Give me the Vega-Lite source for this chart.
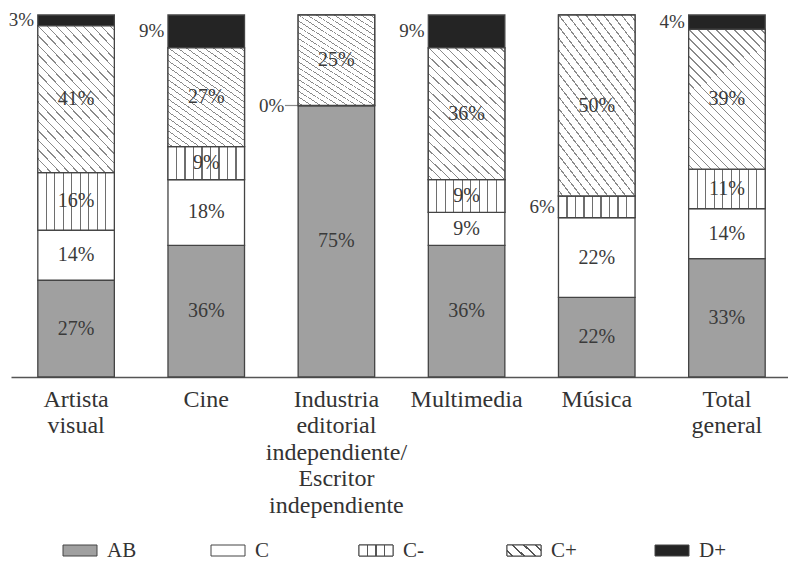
{
  "$schema": "https://vega.github.io/schema/vega-lite/v6.json",
  "padding": {"left": 8, "top": 11, "right": 0, "bottom": 0},
  "background": "white",
  "spacing": 22,
  "config": {
    "view": {"stroke": null},
    "font": "Liberation Serif",
    "text": {"font": "Liberation Serif"},
    "axis": {
      "domainColor": "#555",
      "domainWidth": 1.5,
      "ticks": false,
      "grid": false,
      "labelAngle": 0,
      "labelFont": "Liberation Serif",
      "labelFontSize": 24,
      "labelColor": "#333",
      "labelLineHeight": 26.5,
      "labelPadding": 10,
      "labelLimit": 0
    }
  },
  "vconcat": [
    {
      "width": 781,
      "height": 362,
      "data": {
        "values": [
          {"category": "Artista visual", "segment": "AB", "value": 27},
          {"category": "Artista visual", "segment": "C", "value": 14},
          {"category": "Artista visual", "segment": "C-", "value": 16},
          {"category": "Artista visual", "segment": "C+", "value": 41},
          {"category": "Artista visual", "segment": "D+", "value": 3},
          {"category": "Cine", "segment": "AB", "value": 36},
          {"category": "Cine", "segment": "C", "value": 18},
          {"category": "Cine", "segment": "C-", "value": 9},
          {"category": "Cine", "segment": "C+", "value": 27},
          {"category": "Cine", "segment": "D+", "value": 9},
          {"category": "Industria editorial independiente/ Escritor independiente", "segment": "AB", "value": 75},
          {"category": "Industria editorial independiente/ Escritor independiente", "segment": "C", "value": 0},
          {"category": "Industria editorial independiente/ Escritor independiente", "segment": "C+", "value": 25},
          {"category": "Multimedia", "segment": "AB", "value": 36},
          {"category": "Multimedia", "segment": "C", "value": 9},
          {"category": "Multimedia", "segment": "C-", "value": 9},
          {"category": "Multimedia", "segment": "C+", "value": 36},
          {"category": "Multimedia", "segment": "D+", "value": 9},
          {"category": "Música", "segment": "AB", "value": 22},
          {"category": "Música", "segment": "C", "value": 22},
          {"category": "Música", "segment": "C-", "value": 6},
          {"category": "Música", "segment": "C+", "value": 50},
          {"category": "Total general", "segment": "AB", "value": 33},
          {"category": "Total general", "segment": "C", "value": 14},
          {"category": "Total general", "segment": "C-", "value": 11},
          {"category": "Total general", "segment": "C+", "value": 39},
          {"category": "Total general", "segment": "D+", "value": 4}
        ]
      },
      "transform": [
        {"calculate": "indexof(['AB','C','C-','C+','D+'], datum.segment)", "as": "rank"},
        {"stack": "value", "groupby": ["category"], "sort": [{"field": "rank", "order": "ascending"}], "offset": "normalize", "as": ["y0", "y1"]},
        {"calculate": "(datum.y0 + datum.y1) / 2", "as": "mid"},
        {"calculate": "datum.value + '%'", "as": "label"}
      ],
      "encoding": {
        "x": {
          "field": "category",
          "type": "nominal",
          "sort": null,
          "scale": {"paddingInner": 0.412, "paddingOuter": 0.206},
          "axis": {"title": null, "labelExpr": "split(datum.label, ' ')"}
        }
      },
      "layer": [
        {
          "mark": {"type": "bar", "stroke": "#444", "strokeWidth": 1.3},
          "encoding": {
            "y": {"field": "y0", "type": "quantitative", "scale": {"domain": [0, 1]}, "axis": null},
            "y2": {"field": "y1"},
            "color": {
              "field": "segment",
              "type": "nominal",
              "scale": {
                "domain": ["AB", "C", "C-", "C+", "D+"],
                "range": ["#a0a0a0", "#ffffff", "#ffffff", "#ffffff", "#242424"]
              },
              "legend": null
            }
          }
        },
        {
          "transform": [{"filter": "datum.segment == 'C-'"}],
          "mark": {
            "type": "bar",
            "stroke": "#444",
            "strokeWidth": 1.3,
            "fill": {
              "gradient": "linear", "x1": 0, "y1": 0, "x2": 1, "y2": 0,
              "stops": [
                {"offset": 0, "color": "#ffffff"},
                {"offset": 0.1031, "color": "#ffffff"}, {"offset": 0.1031, "color": "#6e6e6e"}, {"offset": 0.1191, "color": "#6e6e6e"}, {"offset": 0.1191, "color": "#ffffff"},
                {"offset": 0.2142, "color": "#ffffff"}, {"offset": 0.2142, "color": "#6e6e6e"}, {"offset": 0.2302, "color": "#6e6e6e"}, {"offset": 0.2302, "color": "#ffffff"},
                {"offset": 0.3253, "color": "#ffffff"}, {"offset": 0.3253, "color": "#6e6e6e"}, {"offset": 0.3413, "color": "#6e6e6e"}, {"offset": 0.3413, "color": "#ffffff"},
                {"offset": 0.4364, "color": "#ffffff"}, {"offset": 0.4364, "color": "#6e6e6e"}, {"offset": 0.4524, "color": "#6e6e6e"}, {"offset": 0.4524, "color": "#ffffff"},
                {"offset": 0.5476, "color": "#ffffff"}, {"offset": 0.5476, "color": "#6e6e6e"}, {"offset": 0.5636, "color": "#6e6e6e"}, {"offset": 0.5636, "color": "#ffffff"},
                {"offset": 0.6587, "color": "#ffffff"}, {"offset": 0.6587, "color": "#6e6e6e"}, {"offset": 0.6747, "color": "#6e6e6e"}, {"offset": 0.6747, "color": "#ffffff"},
                {"offset": 0.7698, "color": "#ffffff"}, {"offset": 0.7698, "color": "#6e6e6e"}, {"offset": 0.7858, "color": "#6e6e6e"}, {"offset": 0.7858, "color": "#ffffff"},
                {"offset": 0.8809, "color": "#ffffff"}, {"offset": 0.8809, "color": "#6e6e6e"}, {"offset": 0.8969, "color": "#6e6e6e"}, {"offset": 0.8969, "color": "#ffffff"},
                {"offset": 1, "color": "#ffffff"}
              ]
            }
          },
          "encoding": {
            "y": {"field": "y0", "type": "quantitative"},
            "y2": {"field": "y1"}
          }
        },
        {
          "transform": [{"filter": "datum.segment == 'C+'"}],
          "mark": {
            "type": "bar",
            "stroke": "#444",
            "strokeWidth": 1.3,
            "fill": {
              "gradient": "linear", "x1": 1, "y1": 0, "x2": 0.344, "y2": 1.19,
              "stops": [
                {"offset": 0, "color": "#ffffff"},
                {"offset": 0.0175, "color": "#ffffff"}, {"offset": 0.0175, "color": "#8a8a8a"}, {"offset": 0.0241, "color": "#8a8a8a"}, {"offset": 0.0241, "color": "#ffffff"},
                {"offset": 0.0592, "color": "#ffffff"}, {"offset": 0.0592, "color": "#8a8a8a"}, {"offset": 0.0658, "color": "#8a8a8a"}, {"offset": 0.0658, "color": "#ffffff"},
                {"offset": 0.1009, "color": "#ffffff"}, {"offset": 0.1009, "color": "#8a8a8a"}, {"offset": 0.1075, "color": "#8a8a8a"}, {"offset": 0.1075, "color": "#ffffff"},
                {"offset": 0.1425, "color": "#ffffff"}, {"offset": 0.1425, "color": "#8a8a8a"}, {"offset": 0.1491, "color": "#8a8a8a"}, {"offset": 0.1491, "color": "#ffffff"},
                {"offset": 0.1842, "color": "#ffffff"}, {"offset": 0.1842, "color": "#8a8a8a"}, {"offset": 0.1908, "color": "#8a8a8a"}, {"offset": 0.1908, "color": "#ffffff"},
                {"offset": 0.2259, "color": "#ffffff"}, {"offset": 0.2259, "color": "#8a8a8a"}, {"offset": 0.2325, "color": "#8a8a8a"}, {"offset": 0.2325, "color": "#ffffff"},
                {"offset": 0.2675, "color": "#ffffff"}, {"offset": 0.2675, "color": "#8a8a8a"}, {"offset": 0.2741, "color": "#8a8a8a"}, {"offset": 0.2741, "color": "#ffffff"},
                {"offset": 0.3092, "color": "#ffffff"}, {"offset": 0.3092, "color": "#8a8a8a"}, {"offset": 0.3158, "color": "#8a8a8a"}, {"offset": 0.3158, "color": "#ffffff"},
                {"offset": 0.3509, "color": "#ffffff"}, {"offset": 0.3509, "color": "#8a8a8a"}, {"offset": 0.3575, "color": "#8a8a8a"}, {"offset": 0.3575, "color": "#ffffff"},
                {"offset": 0.3925, "color": "#ffffff"}, {"offset": 0.3925, "color": "#8a8a8a"}, {"offset": 0.3991, "color": "#8a8a8a"}, {"offset": 0.3991, "color": "#ffffff"},
                {"offset": 0.4342, "color": "#ffffff"}, {"offset": 0.4342, "color": "#8a8a8a"}, {"offset": 0.4408, "color": "#8a8a8a"}, {"offset": 0.4408, "color": "#ffffff"},
                {"offset": 0.4759, "color": "#ffffff"}, {"offset": 0.4759, "color": "#8a8a8a"}, {"offset": 0.4825, "color": "#8a8a8a"}, {"offset": 0.4825, "color": "#ffffff"},
                {"offset": 0.5175, "color": "#ffffff"}, {"offset": 0.5175, "color": "#8a8a8a"}, {"offset": 0.5241, "color": "#8a8a8a"}, {"offset": 0.5241, "color": "#ffffff"},
                {"offset": 0.5592, "color": "#ffffff"}, {"offset": 0.5592, "color": "#8a8a8a"}, {"offset": 0.5658, "color": "#8a8a8a"}, {"offset": 0.5658, "color": "#ffffff"},
                {"offset": 0.6009, "color": "#ffffff"}, {"offset": 0.6009, "color": "#8a8a8a"}, {"offset": 0.6075, "color": "#8a8a8a"}, {"offset": 0.6075, "color": "#ffffff"},
                {"offset": 0.6425, "color": "#ffffff"}, {"offset": 0.6425, "color": "#8a8a8a"}, {"offset": 0.6491, "color": "#8a8a8a"}, {"offset": 0.6491, "color": "#ffffff"},
                {"offset": 0.6842, "color": "#ffffff"}, {"offset": 0.6842, "color": "#8a8a8a"}, {"offset": 0.6908, "color": "#8a8a8a"}, {"offset": 0.6908, "color": "#ffffff"},
                {"offset": 0.7259, "color": "#ffffff"}, {"offset": 0.7259, "color": "#8a8a8a"}, {"offset": 0.7325, "color": "#8a8a8a"}, {"offset": 0.7325, "color": "#ffffff"},
                {"offset": 0.7675, "color": "#ffffff"}, {"offset": 0.7675, "color": "#8a8a8a"}, {"offset": 0.7741, "color": "#8a8a8a"}, {"offset": 0.7741, "color": "#ffffff"},
                {"offset": 0.8092, "color": "#ffffff"}, {"offset": 0.8092, "color": "#8a8a8a"}, {"offset": 0.8158, "color": "#8a8a8a"}, {"offset": 0.8158, "color": "#ffffff"},
                {"offset": 0.8509, "color": "#ffffff"}, {"offset": 0.8509, "color": "#8a8a8a"}, {"offset": 0.8575, "color": "#8a8a8a"}, {"offset": 0.8575, "color": "#ffffff"},
                {"offset": 0.8925, "color": "#ffffff"}, {"offset": 0.8925, "color": "#8a8a8a"}, {"offset": 0.8991, "color": "#8a8a8a"}, {"offset": 0.8991, "color": "#ffffff"},
                {"offset": 0.9342, "color": "#ffffff"}, {"offset": 0.9342, "color": "#8a8a8a"}, {"offset": 0.9408, "color": "#8a8a8a"}, {"offset": 0.9408, "color": "#ffffff"},
                {"offset": 0.9759, "color": "#ffffff"}, {"offset": 0.9759, "color": "#8a8a8a"}, {"offset": 0.9825, "color": "#8a8a8a"}, {"offset": 0.9825, "color": "#ffffff"},
                {"offset": 1, "color": "#ffffff"}
              ]
            }
          },
          "encoding": {
            "y": {"field": "y0", "type": "quantitative"},
            "y2": {"field": "y1"}
          }
        },
        {
          "transform": [{"filter": "datum.segment != 'D+' && datum.value >= 8"}],
          "mark": {"type": "text", "font": "Liberation Serif", "fontSize": 20, "color": "#3a3a3a", "baseline": "middle"},
          "encoding": {
            "y": {"field": "mid", "type": "quantitative"},
            "text": {"field": "label"}
          }
        },
        {
          "transform": [{"filter": "(datum.segment == 'D+' || datum.value < 8) && datum.value > 0"}],
          "mark": {"type": "text", "font": "Liberation Serif", "fontSize": 19, "color": "#3a3a3a", "baseline": "middle", "align": "right", "dx": -42},
          "encoding": {
            "y": {"field": "mid", "type": "quantitative"},
            "text": {"field": "label"}
          }
        },
        {
          "transform": [{"filter": "datum.value == 0"}],
          "mark": {"type": "text", "font": "Liberation Serif", "fontSize": 19, "color": "#3a3a3a", "baseline": "middle", "align": "right", "dx": -52},
          "encoding": {
            "y": {"field": "mid", "type": "quantitative"},
            "text": {"field": "label"}
          }
        },
        {
          "transform": [{"filter": "datum.value == 0"}],
          "mark": {"type": "tick", "color": "#555", "size": 13, "thickness": 1.2, "xOffset": -45},
          "encoding": {
            "y": {"field": "mid", "type": "quantitative"}
          }
        }
      ]
    },
    {
      "width": 740,
      "height": 11,
      "data": {
        "values": [
          {"segment": "AB"},
          {"segment": "C"},
          {"segment": "C-"},
          {"segment": "C+"},
          {"segment": "D+"}
        ]
      },
      "encoding": {
        "x": {
          "field": "segment",
          "type": "nominal",
          "sort": null,
          "scale": {"paddingInner": 0, "paddingOuter": 0},
          "axis": null
        }
      },
      "layer": [
        {
          "mark": {"type": "bar", "width": 34, "xOffset": -5, "stroke": "#444", "strokeWidth": 1},
          "encoding": {
            "color": {
              "field": "segment",
              "type": "nominal",
              "scale": {
                "domain": ["AB", "C", "C-", "C+", "D+"],
                "range": ["#a0a0a0", "#ffffff", "#ffffff", "#ffffff", "#242424"]
              },
              "legend": null
            }
          }
        },
        {
          "transform": [{"filter": "datum.segment == 'C-'"}],
          "mark": {
            "type": "bar", "width": 34, "xOffset": -5, "stroke": "#444", "strokeWidth": 1,
            "fill": {
              "gradient": "linear", "x1": 0, "y1": 0, "x2": 1, "y2": 0,
              "stops": [
                {"offset": 0, "color": "#ffffff"},
                {"offset": 0.23, "color": "#ffffff"}, {"offset": 0.23, "color": "#555555"}, {"offset": 0.27, "color": "#555555"}, {"offset": 0.27, "color": "#ffffff"},
                {"offset": 0.48, "color": "#ffffff"}, {"offset": 0.48, "color": "#555555"}, {"offset": 0.52, "color": "#555555"}, {"offset": 0.52, "color": "#ffffff"},
                {"offset": 0.73, "color": "#ffffff"}, {"offset": 0.73, "color": "#555555"}, {"offset": 0.77, "color": "#555555"}, {"offset": 0.77, "color": "#ffffff"},
                {"offset": 1, "color": "#ffffff"}
              ]
            }
          }
        },
        {
          "transform": [{"filter": "datum.segment == 'C+'"}],
          "mark": {
            "type": "bar", "width": 34, "xOffset": -5, "stroke": "#444", "strokeWidth": 1,
            "fill": {
              "gradient": "linear", "x1": 1, "y1": 0, "x2": -0.203, "y2": 0.425,
              "stops": [
                {"offset": 0, "color": "#ffffff"},
                {"offset": 0.1, "color": "#ffffff"}, {"offset": 0.1, "color": "#555555"}, {"offset": 0.15, "color": "#555555"}, {"offset": 0.15, "color": "#ffffff"},
                {"offset": 0.35, "color": "#ffffff"}, {"offset": 0.35, "color": "#555555"}, {"offset": 0.4, "color": "#555555"}, {"offset": 0.4, "color": "#ffffff"},
                {"offset": 0.6, "color": "#ffffff"}, {"offset": 0.6, "color": "#555555"}, {"offset": 0.65, "color": "#555555"}, {"offset": 0.65, "color": "#ffffff"},
                {"offset": 0.85, "color": "#ffffff"}, {"offset": 0.85, "color": "#555555"}, {"offset": 0.9, "color": "#555555"}, {"offset": 0.9, "color": "#ffffff"},
                {"offset": 1, "color": "#ffffff"}
              ]
            }
          }
        },
        {
          "mark": {"type": "text", "font": "Liberation Serif", "align": "left", "baseline": "middle", "dx": 22, "fontSize": 21, "color": "#333"},
          "encoding": {
            "text": {"field": "segment"}
          }
        }
      ]
    }
  ]
}
